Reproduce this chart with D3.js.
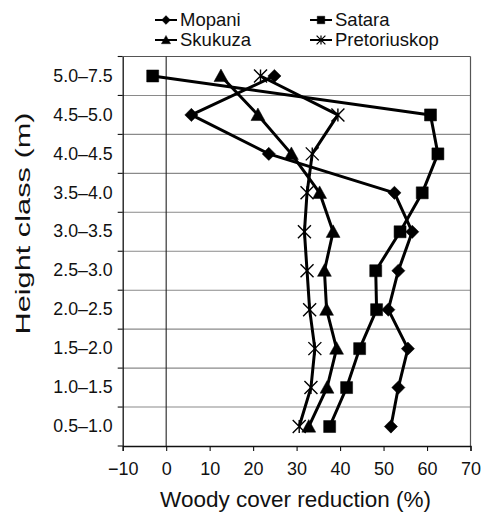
<!DOCTYPE html>
<html>
<head>
<meta charset="utf-8">
<script src="https://cdn.jsdelivr.net/npm/d3@7/dist/d3.min.js"></script>
<style>
  html, body { margin: 0; padding: 0; background: #fff; }
  svg { display: block; }
  text { font-family: "Liberation Sans", Arial, Helvetica, sans-serif; fill: #111; }
</style>
</head>
<body>
<svg id="chart" width="489" height="512"></svg>
<script>
// ---- data ----
const categories = ["0.5–1.0","1.0–1.5","1.5–2.0","2.0–2.5","2.5–3.0","3.0–3.5","3.5–4.0","4.0–4.5","4.5–5.0","5.0–7.5"];
const mopani       = [51.7, 53.4, 55.6, 51.1, 53.4, 56.6, 52.5, 23.6,  5.8, 24.9];
const satara       = [37.6, 41.5, 44.5, 48.4, 48.2, 53.8, 58.9, 62.5, 60.8, -3.1];
const skukuza      = [32.8, 37.0, 39.2, 36.9, 36.4, 38.4, 35.3, 28.8, 21.1, 12.6];
const pretoriuskop = [30.6, 33.3, 34.2, 33.0, 32.4, 31.8, 32.4, 33.6, 39.5, 21.7];
const seriesNames  = ["Mopani", "Satara", "Skukuza", "Pretoriuskop"];
const xTicks = [-10, 0, 10, 20, 30, 40, 50, 60, 70];
const xTitle = "Woody cover reduction (%)";
const yTitle = "Height class (m)";

const seriesValues = { Mopani: mopani, Satara: satara, Skukuza: skukuza, Pretoriuskop: pretoriuskop };
const markerOf = { Mopani: "diamond", Satara: "square", Skukuza: "triangle", Pretoriuskop: "star" };

const svg = d3.select("#chart");
const L = 122.7, R = 470.5, T = 56.5, B = 446;

const x = d3.scaleLinear().domain([-10, 70]).range([L, R]);
const y = d3.scaleBand().domain(categories.slice().reverse()).range([T, B]).padding(0);
const yc = c => y(c) + y.bandwidth() / 2;

// marker paths
function markerPath(type, s) {
  const p = d3.path();
  if (type === "diamond") {
    p.moveTo(0, -s); p.lineTo(s, 0); p.lineTo(0, s); p.lineTo(-s, 0); p.closePath();
  } else if (type === "square") {
    p.rect(-s, -s, 2 * s, 2 * s);
  } else if (type === "triangle") {
    p.moveTo(0, -s * 1.05); p.lineTo(s * 1.05, s * 0.85); p.lineTo(-s * 1.05, s * 0.85); p.closePath();
  } else if (type === "star") {
    p.moveTo(-s, -s); p.lineTo(s, s);
    p.moveTo(-s, s); p.lineTo(s, -s);
    p.moveTo(0, -s); p.lineTo(0, s);
  }
  return p.toString();
}

// ---- grid ----
const boundaries = d3.range(1, categories.length).map(i => T + i * y.bandwidth());
svg.append("g").selectAll("line").data(boundaries).join("line")
  .attr("x1", L).attr("x2", R).attr("y1", d => d).attr("y2", d => d)
  .attr("stroke", "#8a8a8a").attr("stroke-width", 1.1);
// top & right frame
svg.append("line").attr("x1", L).attr("x2", R).attr("y1", T).attr("y2", T).attr("stroke", "#555").attr("stroke-width", 1.2);
svg.append("line").attr("x1", R).attr("x2", R).attr("y1", T).attr("y2", B).attr("stroke", "#555").attr("stroke-width", 1.2);
// zero line
svg.append("line").attr("x1", x(0)).attr("x2", x(0)).attr("y1", T).attr("y2", B).attr("stroke", "#222").attr("stroke-width", 1.1);

// ---- axes ----
const xAxis = d3.axisBottom(x).tickValues(xTicks).tickSize(5).tickPadding(11).tickFormat(d3.format("d"));
const gx = svg.append("g").attr("transform", `translate(0,${B})`).call(xAxis);
gx.select(".domain").attr("stroke", "#111").attr("stroke-width", 1.3);
gx.selectAll(".tick line").attr("stroke", "#111").attr("stroke-width", 1.1);
gx.selectAll("text").attr("font-size", 18).attr("font-family", "Liberation Sans, Arial, sans-serif").attr("fill", "#111");

const yAxis = d3.axisLeft(y).tickSize(0).tickPadding(10);
const gy = svg.append("g").attr("transform", `translate(${L},0)`).call(yAxis);
gy.select(".domain").attr("stroke", "#111").attr("stroke-width", 1.3);
gy.selectAll("text").attr("font-size", 17.8).attr("font-family", "Liberation Sans, Arial, sans-serif").attr("fill", "#111");
// boundary ticks on y axis
svg.append("g").selectAll("line").data([T, ...boundaries, B]).join("line")
  .attr("x1", L - 5).attr("x2", L).attr("y1", d => d).attr("y2", d => d)
  .attr("stroke", "#111").attr("stroke-width", 1.1);

// ---- series ----
const line = d3.line().x(d => x(d.v)).y(d => yc(d.c));
seriesNames.forEach(name => {
  const data = categories.map((c, i) => ({ c, v: seriesValues[name][i] }));
  svg.append("path").datum(data)
    .attr("d", line).attr("fill", "none").attr("stroke", "#000").attr("stroke-width", 3)
    .attr("stroke-linejoin", "round");
});
seriesNames.forEach(name => {
  const data = categories.map((c, i) => ({ c, v: seriesValues[name][i] }));
  const m = markerOf[name];
  const size = m === "diamond" ? 6.6 : m === "square" ? 6 : m === "triangle" ? 6.6 : 6.5;
  svg.append("g").selectAll("path").data(data).join("path")
    .attr("transform", d => `translate(${x(d.v)},${yc(d.c)})`)
    .attr("d", markerPath(m, size))
    .attr("fill", m === "star" ? "none" : "#000")
    .attr("stroke", "#000").attr("stroke-width", m === "star" ? 1.4 : 0.5);
});

// ---- legend ----
const legendItems = [
  { name: "Mopani", lx: 155, ty: 20 },
  { name: "Satara", lx: 310, ty: 20 },
  { name: "Skukuza", lx: 155, ty: 40 },
  { name: "Pretoriuskop", lx: 310, ty: 40 }
];
const lg = svg.append("g");
legendItems.forEach(it => {
  const g = lg.append("g").attr("transform", `translate(${it.lx},${it.ty})`);
  g.append("line").attr("x1", 0).attr("x2", 22).attr("y1", 0).attr("y2", 0).attr("stroke", "#000").attr("stroke-width", 2);
  const m = markerOf[it.name];
  g.append("path").attr("transform", "translate(11,0)")
    .attr("d", markerPath(m, m === "square" ? 3.8 : 4.4))
    .attr("fill", m === "star" ? "none" : "#000").attr("stroke", "#000").attr("stroke-width", m === "star" ? 1.2 : 0.4);
  g.append("text").attr("x", 25).attr("y", 0).attr("dy", "0.35em")
    .attr("font-size", 18.5).text(it.name);
});

// ---- titles ----
svg.append("text").attr("x", (L + R) / 2 - 1).attr("y", 507)
  .attr("text-anchor", "middle").attr("font-size", 22.5).text(xTitle);
svg.append("text").attr("transform", "translate(29.5,223.5) rotate(-90)")
  .attr("text-anchor", "middle").attr("font-size", 20)
  .attr("textLength", 222).attr("lengthAdjust", "spacingAndGlyphs").text(yTitle);
</script>
</body>
</html>
